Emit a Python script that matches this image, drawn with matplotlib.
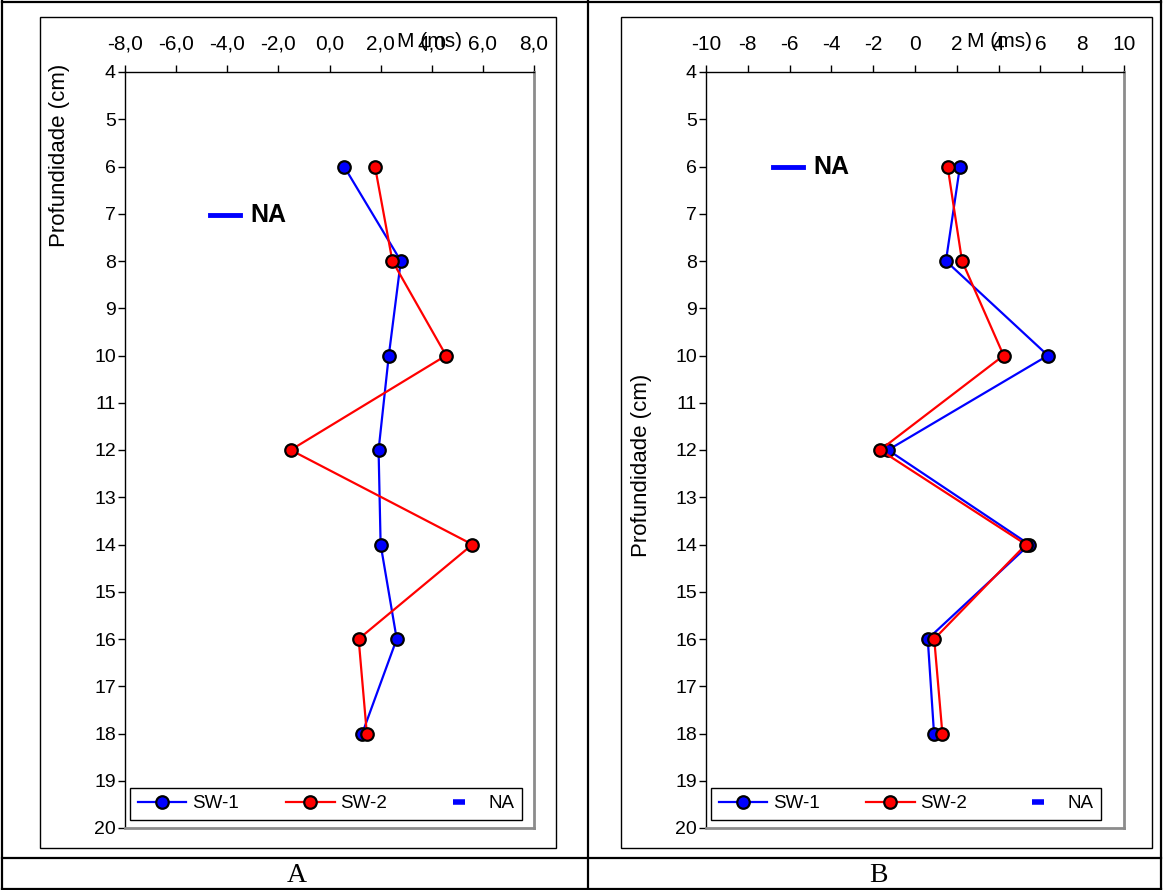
import matplotlib
matplotlib.use("Agg")
import matplotlib.pyplot as plt
from matplotlib.lines import Line2D
from matplotlib.patches import Rectangle
from matplotlib.ticker import FuncFormatter

plt.rcParams['font.family'] = ['Liberation Sans', 'DejaVu Sans']

# ---- data ----
depth = [6, 8, 10, 12, 14, 16, 18]
a_sw1 = [0.57, 2.79, 2.32, 1.92, 2.00, 2.63, 1.28]
a_sw2 = [1.78, 2.46, 4.56, -1.52, 5.59, 1.14, 1.46]
b_sw1 = [2.15, 1.48, 6.36, -1.29, 5.47, 0.61, 0.91]
b_sw2 = [1.56, 2.25, 4.24, -1.67, 5.31, 0.92, 1.31]
a_xticks = [-8, -6, -4, -2, 0, 2, 4, 6, 8]
b_xticks = [-10, -8, -6, -4, -2, 0, 2, 4, 6, 8, 10]
y_ticks = list(range(4, 21))
panel_labels = ["A", "B"]
series_labels = ["SW-1", "SW-2", "NA"]
xlabel = "M (ms)"
ylabel = "Profundidade (cm)"

W, H = 1163, 890
fig = plt.figure(figsize=(W / 100, H / 100), dpi=100)
fig.patch.set_facecolor("white")


def fx(px):
    return px / W


def fy(py):
    return 1 - py / H


# table lines
for x in [2, 588, 1161]:
    fig.add_artist(Line2D([fx(x), fx(x)], [fy(1), fy(889)], color="black", lw=1.6))
for y in [1.5, 858, 888.5]:
    fig.add_artist(Line2D([fx(2), fx(1161)], [fy(y), fy(y)], color="black", lw=1.6))

# chart-area boxes
for (x0, x1) in [(40, 556), (621, 1152)]:
    fig.add_artist(Rectangle((fx(x0), fy(848)), fx(x1) - fx(x0), fy(17) - fy(848),
                             transform=fig.transFigure, fill=False, ec="black", lw=1.0))

panels = [
    dict(x0=125, x1=534, xlim=(-8, 8), xticks=a_xticks, fmt="{:.1f}", sw1=a_sw1, sw2=a_sw2,
         mlabel_x=0.745, ylab_x=60, ylab_y=155, na_pos=(210, 215), leg=(130, 522), lab_x=297),
    dict(x0=706, x1=1124, xlim=(-10, 10), xticks=b_xticks, fmt="{:.0f}", sw1=b_sw1, sw2=b_sw2,
         mlabel_x=0.703, ylab_x=641, ylab_y=465, na_pos=(773, 167), leg=(711, 1101), lab_x=878),
]

for i, p in enumerate(panels):
    ax = fig.add_axes([fx(p["x0"]), fy(828), fx(p["x1"]) - fx(p["x0"]), fy(72) - fy(828)])
    ax.set_xlim(*p["xlim"])
    ax.set_ylim(20, 4)
    ax.set_xticks(p["xticks"])
    ax.set_yticks(y_ticks)
    fmt = p["fmt"]
    ax.xaxis.set_major_formatter(FuncFormatter(lambda v, pos, f=fmt: f.format(v).replace(".", ",")))
    ax.xaxis.tick_top()
    ax.tick_params(axis="both", direction="out", length=5, width=1, colors="black")
    ax.tick_params(axis="x", pad=8, labelsize=15)
    ax.tick_params(axis="y", pad=1.5, labelsize=14)
    for s in ["top", "left"]:
        ax.spines[s].set_color("black")
        ax.spines[s].set_linewidth(1.0)
    for s in ["right", "bottom"]:
        ax.spines[s].set_color("#8c8c8c")
        ax.spines[s].set_linewidth(2.0)

    l1, = ax.plot(p["sw1"], depth, color="#0000ff", lw=1.6, marker="o", ms=9,
                  mfc="#0000ff", mec="black", mew=1.6, label=series_labels[0], zorder=3)
    l2, = ax.plot(p["sw2"], depth, color="#ff0000", lw=1.6, marker="o", ms=9,
                  mfc="#ff0000", mec="black", mew=1.6, label=series_labels[1], zorder=3)
    l3 = Line2D([], [], color="#0000ff", marker="_", ms=9, mew=4, ls="none", label=series_labels[2])

    leg_x0 = (p["leg"][0] - p["x0"]) / (p["x1"] - p["x0"])
    leg_w = (p["leg"][1] - p["leg"][0]) / (p["x1"] - p["x0"])
    leg = ax.legend(handles=[l1, l2, l3], loc="lower left",
                    bbox_to_anchor=(leg_x0, (828 - 820) / 756, leg_w, 31 / 756),
                    mode="expand", ncol=3, frameon=True, fancybox=False, framealpha=1,
                    edgecolor="black", fontsize=13.5, handlelength=2.6, borderaxespad=0,
                    borderpad=0.4, handletextpad=0.3, columnspacing=1.0)
    leg.get_frame().set_linewidth(1.0)

    # M (ms) label over top tick labels
    ax.text(p["mlabel_x"], (828 - 42) / 756, xlabel, transform=ax.transAxes,
            ha="center", va="center", fontsize=15)

    # y label
    fig.text(fx(p["ylab_x"]), fy(p["ylab_y"]), ylabel, rotation=90, ha="center", va="center",
             fontsize=16)

    # NA marker text inside plot
    nx, ny = p["na_pos"]
    fig.add_artist(Line2D([fx(nx), fx(nx + 30)], [fy(ny), fy(ny)], color="#0000ff", lw=3.5))
    fig.text(fx(nx + 40), fy(ny), series_labels[2], ha="left", va="center",
             fontsize=18, fontweight="bold")

    # panel label
    fig.text(fx(p["lab_x"]), fy(876), panel_labels[i], ha="center", va="center",
             fontsize=20, family=["Liberation Serif", "DejaVu Serif"])

fig.savefig("out.png", dpi=100)
